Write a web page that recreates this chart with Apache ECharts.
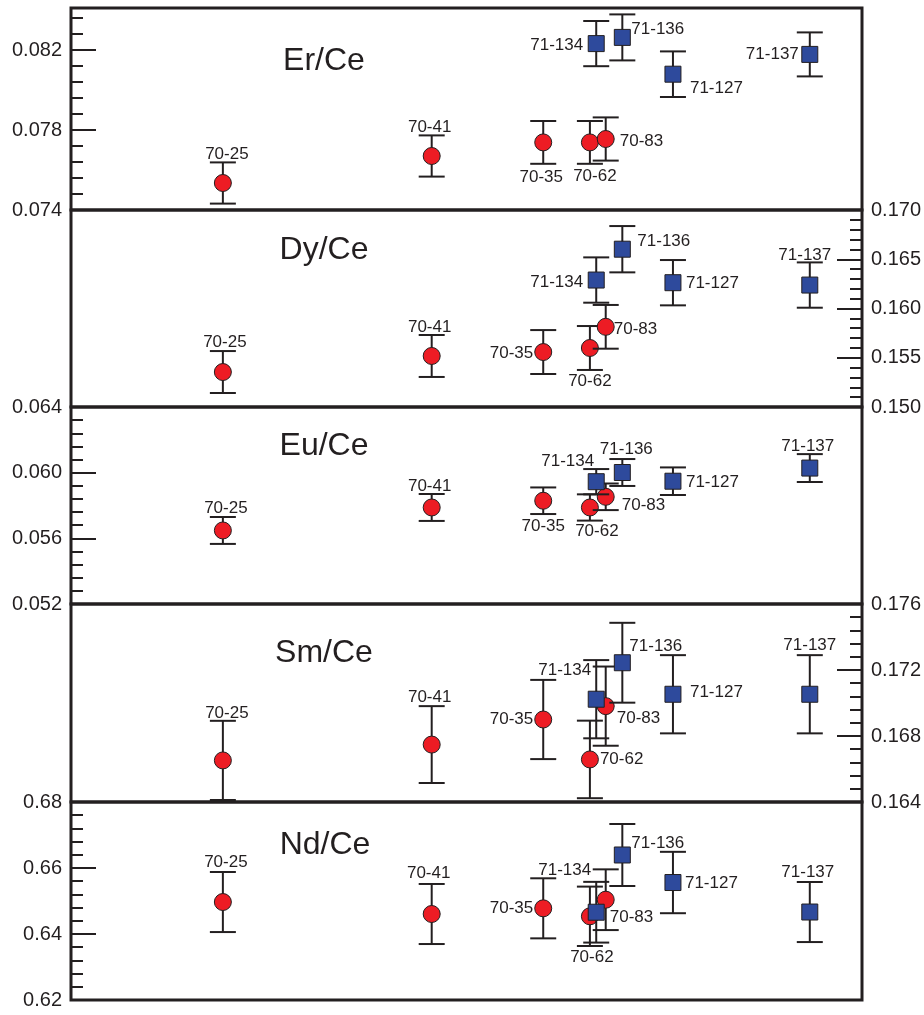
<!DOCTYPE html>
<html><head><meta charset="utf-8">
<script src="https://cdn.jsdelivr.net/npm/echarts@6/dist/echarts.min.js"></script>
<style>html,body{margin:0;padding:0;background:#fff}#chart{width:924px;height:1015px}</style>
</head><body><div id="chart"></div>
<script>
// ---------- data ----------
const samples     = ['70-25','70-41','70-35','70-62','70-83','71-134','71-136','71-127','71-137'];
const sampleGroup = ['70','70','70','70','70','71','71','71','71'];
const sampleX     = [19.2, 45.6, 59.7, 65.6, 67.6, 66.4, 69.7, 76.1, 93.4];

const erCe    = [0.07535, 0.0767, 0.07738, 0.07738, 0.07755, 0.08232, 0.08263, 0.08079, 0.08178];
const erCeErr = [0.00103, 0.00103, 0.00107, 0.00107, 0.00108, 0.00113, 0.00115, 0.00114, 0.0011];

const dyCe    = [0.15355, 0.15518, 0.15558, 0.15599, 0.15814, 0.16289, 0.16602, 0.16262, 0.16238];
const dyCeErr = [0.00213, 0.00213, 0.00223, 0.00223, 0.00222, 0.0023, 0.00235, 0.0023, 0.0023];

const euCe    = [0.05648, 0.05788, 0.05829, 0.05788, 0.05853, 0.05945, 0.06001, 0.05948, 0.06028];
const euCeErr = [0.00082, 0.00082, 0.00081, 0.0008, 0.00081, 0.00077, 0.00082, 0.00084, 0.00085];

const smCe    = [0.16652, 0.16748, 0.169, 0.16658, 0.16981, 0.17023, 0.17244, 0.17053, 0.17053];
const smCeErr = [0.0024, 0.00233, 0.0024, 0.00235, 0.0024, 0.00237, 0.00242, 0.00237, 0.00237];

const ndCe    = [0.64969, 0.64606, 0.64778, 0.64536, 0.65039, 0.6466, 0.66394, 0.6556, 0.64666];
const ndCeErr = [0.0091, 0.0091, 0.0091, 0.009, 0.0092, 0.0092, 0.0094, 0.0093, 0.0091];

// tick labels
const erTicks = [0.074, 0.078, 0.082];
const erMinorStep = 0.0008;

// ---------- layout / style ----------
const INK = '#231F20';
const FONT = '"Liberation Sans", Arial, Helvetica, sans-serif';
const RED = '#ED1C24', BLUE = '#2E4A9C';

// label offsets [dx, dy, align] relative to marker centre (px)
const labelsEr = {'70-25':[4,-29,'center'],'70-41':[-2,-29,'center'],'70-35':[-2,35,'center'],'70-62':[5,34,'center'],'70-83':[14,2,'left'],'71-134':[-13,2,'right'],'71-136':[9,-8,'left'],'71-127':[17,14,'left'],'71-137':[-11,0,'right']};
const labelsDy = {'70-25':[2,-30,'center'],'70-41':[-2,-29,'center'],'70-35':[-10,1,'right'],'70-62':[0,33,'center'],'70-83':[8,2,'left'],'71-134':[-13,2,'right'],'71-136':[15,-8,'left'],'71-127':[13,1,'left'],'71-137':[-5,-30,'center']};
const labelsEu = {'70-25':[3,-22,'center'],'70-41':[-2,-21,'center'],'70-35':[0,26,'center'],'70-62':[7,24,'center'],'70-83':[16,9,'left'],'71-134':[-2,-20,'right'],'71-136':[4,-23,'center'],'71-127':[13,1,'left'],'71-137':[-2,-22,'center']};
const labelsSm = {'70-25':[4,-47,'center'],'70-41':[-2,-47,'center'],'70-35':[-10,0,'right'],'70-62':[10,0,'left'],'70-83':[11,12,'left'],'71-134':[-5,-29,'right'],'71-136':[7,-16,'left'],'71-127':[17,-2,'left'],'71-137':[0,-49,'center']};
const labelsNd = {'70-25':[3,-40,'center'],'70-41':[-3,-41,'center'],'70-35':[-10,0,'right'],'70-62':[2,41,'center'],'70-83':[4,18,'left'],'71-134':[-5,-42,'right'],'71-136':[9,-12,'left'],'71-127':[12,1,'left'],'71-137':[-2,-40,'center']};

const panels = [
  {title:'Er/Ce', tx:324, ty:61,  values:erCe, errs:erCeErr, top:8,   height:202, side:'left',  min:0.074, max:0.0841, custom:true, dec:3, labels:labelsEr},
  {title:'Dy/Ce', tx:324, ty:250, values:dyCe, errs:dyCeErr, top:210, height:197, side:'right', min:0.150, max:0.170, interval:0.005, dec:3, labels:labelsDy},
  {title:'Eu/Ce', tx:324, ty:446, values:euCe, errs:euCeErr, top:407, height:197, side:'left',  min:0.052, max:0.064, interval:0.004, dec:3, labels:labelsEu},
  {title:'Sm/Ce', tx:324, ty:653, values:smCe, errs:smCeErr, top:604, height:198, side:'right', min:0.164, max:0.176, interval:0.004, dec:3, labels:labelsSm},
  {title:'Nd/Ce', tx:325, ty:845, values:ndCe, errs:ndCeErr, top:802, height:198, side:'left',  min:0.62,  max:0.68,  interval:0.02,  dec:2, labels:labelsNd}
];

const grids = [], xAxes = [], yAxes = [], series = [], graphics = [];
const tickStyle = {color: INK, width: 2};

panels.forEach((p, i) => {
  grids.push({left:71, width:791, top:p.top, height:p.height, show:true, borderColor:INK, borderWidth:3,
              backgroundColor:'transparent', containLabel:false, outerBoundsMode:'none'});
  xAxes.push({type:'value', gridIndex:i, min:0, max:100, show:false, axisLine:{onZero:false}});
  const labelCfg = {show:true, color:INK, fontSize:20, fontFamily:FONT, margin:9,
                    formatter: v => Number(v).toFixed(p.dec)};
  const axisLine = {show:false, onZero:false};
  if (p.custom) {
    const minor = [];
    for (let k = 0; k < erTicks.length; k++) {
      for (let m = 1; m <= 4; m++) {
        const v = +(erTicks[k] + m * erMinorStep).toFixed(5);
        if (v < p.max) minor.push(v);
      }
    }
    p.yIndex = yAxes.length;
    yAxes.push({type:'value', gridIndex:i, position:p.side, min:p.min, max:p.max,
      axisLine, splitLine:{show:false},
      axisTick:{show:true, inside:true, length:25, lineStyle:tickStyle, customValues:erTicks},
      axisLabel:Object.assign({customValues:erTicks}, labelCfg)});
    yAxes.push({type:'value', gridIndex:i, position:p.side, min:p.min, max:p.max,
      axisLine, splitLine:{show:false},
      axisTick:{show:true, inside:true, length:12, lineStyle:tickStyle, customValues:minor},
      axisLabel:{show:false}});
  } else {
    p.yIndex = yAxes.length;
    yAxes.push({type:'value', gridIndex:i, position:p.side, min:p.min, max:p.max, interval:p.interval,
      axisLine, splitLine:{show:false}, minorSplitLine:{show:false},
      axisTick:{show:true, inside:true, length:25, lineStyle:tickStyle},
      minorTick:{show:true, splitNumber:5, length:12, lineStyle:tickStyle},
      axisLabel:labelCfg});
  }
  graphics.push({type:'text', x:p.tx, y:p.ty, z:10,
    style:{text:p.title, font:'32px ' + FONT, fill:INK, align:'center', verticalAlign:'middle'}});

  ['70','71'].forEach(g => {
    const data = [];
    samples.forEach((s, k) => { if (sampleGroup[k] === g) data.push([sampleX[k], p.values[k], p.errs[k], k]); });
    series.push({
      type:'custom', xAxisIndex:i, yAxisIndex:p.yIndex, z: g === '70' ? 3 : 4,
      data, encode:{x:0, y:1}, animation:false,
      renderItem(params, api) {
        const x = api.value(0), y = api.value(1), e = api.value(2), k = api.value(3);
        const c = api.coord([x, y]), t = api.coord([x, y + e]), b = api.coord([x, y - e]);
        const ls = {stroke:INK, lineWidth:2};
        const lbl = p.labels[samples[k]];
        const marker = g === '70'
          ? {type:'circle', shape:{cx:c[0], cy:c[1], r:8.5}, style:{fill:RED, stroke:INK, lineWidth:1}}
          : {type:'rect', shape:{x:c[0]-8, y:c[1]-8, width:16, height:16}, style:{fill:BLUE, stroke:INK, lineWidth:1}};
        return {type:'group', children:[
          {type:'line', shape:{x1:c[0], y1:t[1], x2:c[0], y2:b[1]}, style:ls},
          {type:'line', shape:{x1:c[0]-13, y1:t[1], x2:c[0]+13, y2:t[1]}, style:ls},
          {type:'line', shape:{x1:c[0]-13, y1:b[1], x2:c[0]+13, y2:b[1]}, style:ls},
          marker,
          {type:'text', x:c[0] + lbl[0], y:c[1] + lbl[1],
           style:{text:samples[k], font:'17px ' + FONT, fill:INK, align:lbl[2], verticalAlign:'middle'}}
        ]};
      }
    });
  });
});

const chart = echarts.init(document.getElementById('chart'), null, {renderer:'canvas'});
chart.setOption({
  backgroundColor:'#ffffff',
  animation:false,
  grid:grids, xAxis:xAxes, yAxis:yAxes, series, graphic:graphics
});
</script></body></html>
